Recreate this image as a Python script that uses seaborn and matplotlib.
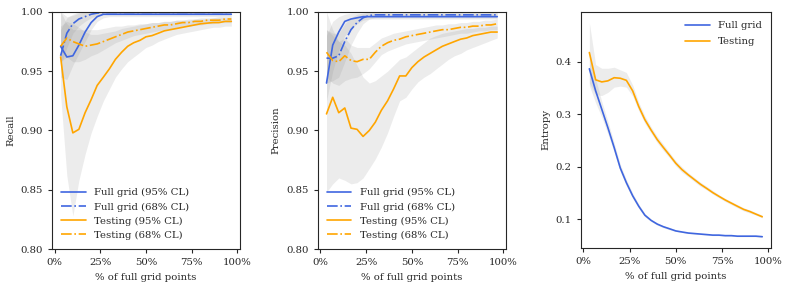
import numpy as np
import pandas as pd
import matplotlib
matplotlib.use("Agg")
import matplotlib.pyplot as plt
import seaborn as sns
from matplotlib.ticker import PercentFormatter

# % of full grid points sampled
pct = [3.3, 6.7, 10.0, 13.3, 16.7, 20.0, 23.3, 26.7, 30.0, 33.3,
       36.7, 40.0, 43.3, 46.7, 50.0, 53.3, 56.7, 60.0, 63.3, 66.7,
       70.0, 73.3, 76.7, 80.0, 83.3, 86.7, 90.0, 93.3, 96.7]

# Recall
rec_full95 = [0.971, 0.962, 0.963, 0.972, 0.983, 0.991, 0.996, 0.998, 0.998, 0.998,
              0.998, 0.998, 0.998, 0.998, 0.998, 0.998, 0.998, 0.998, 0.998, 0.998,
              0.998, 0.998, 0.998, 0.998, 0.998, 0.998, 0.998, 0.998, 0.998]
rec_full95_lo = [0.945, 0.943, 0.955, 0.965, 0.975, 0.985, 0.992, 0.995, 0.996, 0.996,
                 0.996, 0.996, 0.996, 0.996, 0.996, 0.996, 0.996, 0.996, 0.996, 0.996,
                 0.996, 0.996, 0.996, 0.996, 0.996, 0.996, 0.996, 0.996, 0.996]
rec_full95_hi = [1.000, 0.996, 0.997, 0.999, 1.000, 1.000, 1.000, 1.000, 1.000, 1.000,
                 1.000, 1.000, 1.000, 1.000, 1.000, 1.000, 1.000, 1.000, 1.000, 1.000,
                 1.000, 1.000, 1.000, 1.000, 1.000, 1.000, 1.000, 1.000, 1.000]
rec_full68 = [0.963, 0.982, 0.990, 0.994, 0.996, 0.998, 0.999, 0.9995, 0.9995, 0.9995,
              0.9995, 0.9995, 0.9995, 0.9995, 0.9995, 0.9995, 0.9995, 0.9995, 0.9995, 0.9995,
              0.9995, 0.9995, 0.9995, 0.9995, 0.9995, 0.9995, 0.9995, 0.9995, 0.9995]
rec_full68_lo = [0.955, 0.970, 0.982, 0.988, 0.992, 0.995, 0.997, 0.998, 0.998, 0.998,
                 0.998, 0.998, 0.998, 0.998, 0.998, 0.998, 0.998, 0.998, 0.998, 0.998,
                 0.998, 0.998, 0.998, 0.998, 0.998, 0.998, 0.998, 0.998, 0.998]
rec_full68_hi = [0.985, 0.995, 0.998, 1.000, 1.000, 1.000, 1.000, 1.000, 1.000, 1.000,
                 1.000, 1.000, 1.000, 1.000, 1.000, 1.000, 1.000, 1.000, 1.000, 1.000,
                 1.000, 1.000, 1.000, 1.000, 1.000, 1.000, 1.000, 1.000, 1.000]
rec_test95 = [0.962, 0.920, 0.898, 0.901, 0.915, 0.926, 0.938, 0.945, 0.952, 0.960,
              0.966, 0.971, 0.974, 0.976, 0.979, 0.980, 0.982, 0.984, 0.985, 0.986,
              0.987, 0.988, 0.989, 0.990, 0.9905, 0.991, 0.991, 0.992, 0.992]
rec_test95_lo = [0.930, 0.862, 0.828, 0.858, 0.880, 0.898, 0.912, 0.925, 0.935, 0.945,
                 0.952, 0.958, 0.962, 0.966, 0.970, 0.972, 0.975, 0.977, 0.979, 0.981,
                 0.982, 0.983, 0.984, 0.985, 0.986, 0.987, 0.987, 0.988, 0.988]
rec_test95_hi = [1.000, 0.990, 0.985, 0.985, 0.985, 0.985, 0.985, 0.986, 0.987, 0.988,
                 0.988, 0.989, 0.989, 0.990, 0.990, 0.991, 0.991, 0.992, 0.992, 0.993,
                 0.993, 0.993, 0.994, 0.994, 0.994, 0.995, 0.995, 0.995, 0.995]
rec_test68 = [0.971, 0.978, 0.975, 0.973, 0.971, 0.972, 0.973, 0.975, 0.977, 0.979,
              0.981, 0.983, 0.984, 0.985, 0.986, 0.987, 0.988, 0.989, 0.989, 0.990,
              0.991, 0.991, 0.992, 0.992, 0.993, 0.993, 0.993, 0.994, 0.994]
rec_test68_lo = [0.958, 0.962, 0.958, 0.958, 0.960, 0.963, 0.965, 0.968, 0.971, 0.974,
                 0.976, 0.978, 0.980, 0.981, 0.982, 0.983, 0.984, 0.985, 0.986, 0.987,
                 0.988, 0.988, 0.989, 0.989, 0.990, 0.990, 0.991, 0.991, 0.991]
rec_test68_hi = [0.988, 0.992, 0.990, 0.987, 0.983, 0.981, 0.981, 0.982, 0.983, 0.984,
                 0.986, 0.987, 0.988, 0.989, 0.990, 0.991, 0.991, 0.992, 0.992, 0.993,
                 0.993, 0.994, 0.994, 0.995, 0.995, 0.995, 0.996, 0.996, 0.996]

# Precision
prec_full95 = [0.940, 0.972, 0.983, 0.992, 0.994, 0.995, 0.996, 0.996, 0.996, 0.996,
               0.996, 0.996, 0.996, 0.996, 0.996, 0.996, 0.996, 0.996, 0.996, 0.996,
               0.996, 0.996, 0.996, 0.996, 0.996, 0.996, 0.996, 0.996, 0.996]
prec_full95_lo = [0.925, 0.950, 0.968, 0.980, 0.986, 0.990, 0.993, 0.994, 0.994, 0.994,
                  0.994, 0.994, 0.994, 0.994, 0.994, 0.994, 0.994, 0.994, 0.994, 0.994,
                  0.994, 0.994, 0.994, 0.994, 0.994, 0.994, 0.994, 0.994, 0.994]
prec_full95_hi = [0.980, 0.992, 0.996, 0.998, 0.999, 0.999, 0.999, 0.999, 0.999, 0.999,
                  0.999, 0.999, 0.999, 0.999, 0.999, 0.999, 0.999, 0.999, 0.999, 0.999,
                  0.999, 0.999, 0.999, 0.999, 0.999, 0.999, 0.999, 0.999, 0.999]
prec_full68 = [0.961, 0.961, 0.963, 0.975, 0.985, 0.991, 0.995, 0.997, 0.9975, 0.9975,
               0.9975, 0.9975, 0.9975, 0.9975, 0.9975, 0.9975, 0.9975, 0.9975, 0.9975, 0.9975,
               0.9975, 0.9975, 0.9975, 0.9975, 0.9975, 0.9975, 0.9975, 0.9975, 0.9975]
prec_full68_lo = [0.940, 0.942, 0.945, 0.958, 0.972, 0.982, 0.990, 0.994, 0.995, 0.995,
                  0.995, 0.995, 0.995, 0.995, 0.995, 0.995, 0.995, 0.995, 0.995, 0.995,
                  0.995, 0.995, 0.995, 0.995, 0.995, 0.995, 0.995, 0.995, 0.995]
prec_full68_hi = [0.985, 0.982, 0.982, 0.990, 0.995, 0.998, 0.999, 1.000, 1.000, 1.000,
                  1.000, 1.000, 1.000, 1.000, 1.000, 1.000, 1.000, 1.000, 1.000, 1.000,
                  1.000, 1.000, 1.000, 1.000, 1.000, 1.000, 1.000, 1.000, 1.000]
prec_test95 = [0.914, 0.928, 0.915, 0.919, 0.902, 0.901, 0.895, 0.900, 0.907, 0.917,
               0.925, 0.935, 0.946, 0.946, 0.953, 0.958, 0.962, 0.965, 0.968, 0.971,
               0.973, 0.975, 0.977, 0.978, 0.980, 0.981, 0.982, 0.983, 0.983]
prec_test95_lo = [0.848, 0.855, 0.860, 0.858, 0.855, 0.856, 0.860, 0.868, 0.876, 0.886,
                  0.898, 0.912, 0.925, 0.928, 0.935, 0.941, 0.945, 0.948, 0.952, 0.956,
                  0.960, 0.963, 0.965, 0.968, 0.970, 0.972, 0.974, 0.976, 0.978]
prec_test95_hi = [1.000, 0.985, 0.975, 0.972, 0.965, 0.955, 0.945, 0.940, 0.942, 0.946,
                  0.950, 0.955, 0.960, 0.962, 0.966, 0.970, 0.974, 0.978, 0.980, 0.982,
                  0.983, 0.984, 0.985, 0.986, 0.986, 0.987, 0.987, 0.988, 0.988]
prec_test68 = [0.966, 0.959, 0.958, 0.963, 0.959, 0.958, 0.960, 0.960, 0.966, 0.971,
               0.974, 0.976, 0.977, 0.979, 0.980, 0.981, 0.982, 0.983, 0.984, 0.985,
               0.985, 0.986, 0.987, 0.987, 0.988, 0.988, 0.989, 0.989, 0.990]
prec_test68_lo = [0.945, 0.940, 0.938, 0.942, 0.944, 0.945, 0.948, 0.952, 0.958, 0.964,
                  0.967, 0.969, 0.971, 0.973, 0.974, 0.975, 0.976, 0.977, 0.978, 0.979,
                  0.980, 0.981, 0.982, 0.982, 0.983, 0.984, 0.984, 0.985, 0.985]
prec_test68_hi = [0.985, 0.980, 0.975, 0.978, 0.972, 0.970, 0.970, 0.970, 0.974, 0.978,
                  0.980, 0.982, 0.983, 0.984, 0.985, 0.986, 0.987, 0.988, 0.989, 0.989,
                  0.990, 0.990, 0.991, 0.991, 0.992, 0.992, 0.993, 0.993, 0.994]

# Entropy
ent_full = [0.387, 0.345, 0.310, 0.275, 0.237, 0.198, 0.170, 0.145, 0.125, 0.108,
            0.098, 0.091, 0.086, 0.082, 0.078, 0.076, 0.074, 0.073, 0.072, 0.071,
            0.070, 0.070, 0.069, 0.069, 0.068, 0.068, 0.068, 0.068, 0.067]
ent_full_lo = [0.355, 0.322, 0.295, 0.263, 0.228, 0.191, 0.164, 0.140, 0.121, 0.105,
               0.096, 0.089, 0.084, 0.080, 0.077, 0.075, 0.073, 0.072, 0.071, 0.070,
               0.069, 0.069, 0.068, 0.068, 0.067, 0.067, 0.067, 0.067, 0.066]
ent_full_hi = [0.410, 0.368, 0.325, 0.287, 0.246, 0.205, 0.176, 0.150, 0.129, 0.111,
               0.100, 0.093, 0.088, 0.084, 0.080, 0.077, 0.075, 0.074, 0.073, 0.072,
               0.071, 0.071, 0.070, 0.070, 0.069, 0.069, 0.069, 0.069, 0.068]
ent_test = [0.418, 0.366, 0.362, 0.364, 0.370, 0.369, 0.365, 0.345, 0.315, 0.290,
            0.270, 0.252, 0.237, 0.222, 0.207, 0.195, 0.185, 0.176, 0.167, 0.159,
            0.151, 0.144, 0.137, 0.131, 0.125, 0.119, 0.115, 0.110, 0.105]
ent_test_lo = [0.360, 0.338, 0.336, 0.342, 0.352, 0.354, 0.352, 0.335, 0.307, 0.283,
               0.264, 0.246, 0.231, 0.217, 0.202, 0.190, 0.181, 0.172, 0.163, 0.156,
               0.148, 0.141, 0.134, 0.128, 0.122, 0.116, 0.112, 0.108, 0.103]
ent_test_hi = [0.475, 0.395, 0.388, 0.388, 0.390, 0.385, 0.380, 0.356, 0.323, 0.297,
               0.276, 0.258, 0.243, 0.227, 0.212, 0.200, 0.189, 0.180, 0.171, 0.163,
               0.155, 0.147, 0.140, 0.134, 0.128, 0.122, 0.118, 0.113, 0.108]

BLUE = "#3f66e0"
ORANGE = "#ffa500"

sns.set_style("ticks")
plt.rcParams["font.family"] = ["DejaVu Serif"]
plt.rcParams["font.size"] = 7.3
plt.rcParams["axes.linewidth"] = 0.8

fig = plt.figure(figsize=(7.89, 2.90), dpi=100)
ax1 = fig.add_axes([0.066, 0.141, 0.238, 0.818])
ax2 = fig.add_axes([0.403, 0.141, 0.238, 0.818])
ax3 = fig.add_axes([0.736, 0.145, 0.241, 0.814])


def band(ax, lo, hi):
    ax.fill_between(pct, lo, hi, color="0.55", alpha=0.16, linewidth=0)


def metric_panel(ax, full95, full68, test95, test68, bands, ylabel):
    for lo, hi in bands:
        band(ax, lo, hi)
    sns.lineplot(x=pct, y=full95, ax=ax, color=BLUE, lw=1.2, label="Full grid (95% CL)")
    sns.lineplot(x=pct, y=full68, ax=ax, color=BLUE, lw=1.2, ls="-.", label="Full grid (68% CL)")
    sns.lineplot(x=pct, y=test95, ax=ax, color=ORANGE, lw=1.2, label="Testing (95% CL)")
    sns.lineplot(x=pct, y=test68, ax=ax, color=ORANGE, lw=1.2, ls="-.", label="Testing (68% CL)")
    ax.set_ylim(0.80, 1.00)
    ax.set_yticks([0.80, 0.85, 0.90, 0.95, 1.00])
    ax.set_ylabel(ylabel)
    ax.legend(loc="lower left", frameon=False, handlelength=2.4, labelspacing=0.5,
              borderaxespad=0.5)


metric_panel(ax1, rec_full95, rec_full68, rec_test95, rec_test68,
             [(rec_full95_lo, rec_full95_hi), (rec_full68_lo, rec_full68_hi),
              (rec_test95_lo, rec_test95_hi), (rec_test68_lo, rec_test68_hi)],
             "Recall")
metric_panel(ax2, prec_full95, prec_full68, prec_test95, prec_test68,
             [(prec_full95_lo, prec_full95_hi), (prec_full68_lo, prec_full68_hi),
              (prec_test95_lo, prec_test95_hi), (prec_test68_lo, prec_test68_hi)],
             "Precision")

band(ax3, ent_full_lo, ent_full_hi)
band(ax3, ent_test_lo, ent_test_hi)
sns.lineplot(x=pct, y=ent_full, ax=ax3, color=BLUE, lw=1.2, label="Full grid")
sns.lineplot(x=pct, y=ent_test, ax=ax3, color=ORANGE, lw=1.2, label="Testing")
ax3.set_yticks([0.1, 0.2, 0.3, 0.4])
ax3.set_ylabel("Entropy")
ax3.legend(loc="upper right", frameon=False, handlelength=2.4, labelspacing=0.7)

for ax in (ax1, ax2, ax3):
    ax.set_xticks([0, 25, 50, 75, 100])
    ax.xaxis.set_major_formatter(PercentFormatter(decimals=0))
    ax.set_xlabel("% of full grid points")
    ax.tick_params(length=3, width=0.8, labelsize=7.3)

fig.savefig("out.png", dpi=100)
